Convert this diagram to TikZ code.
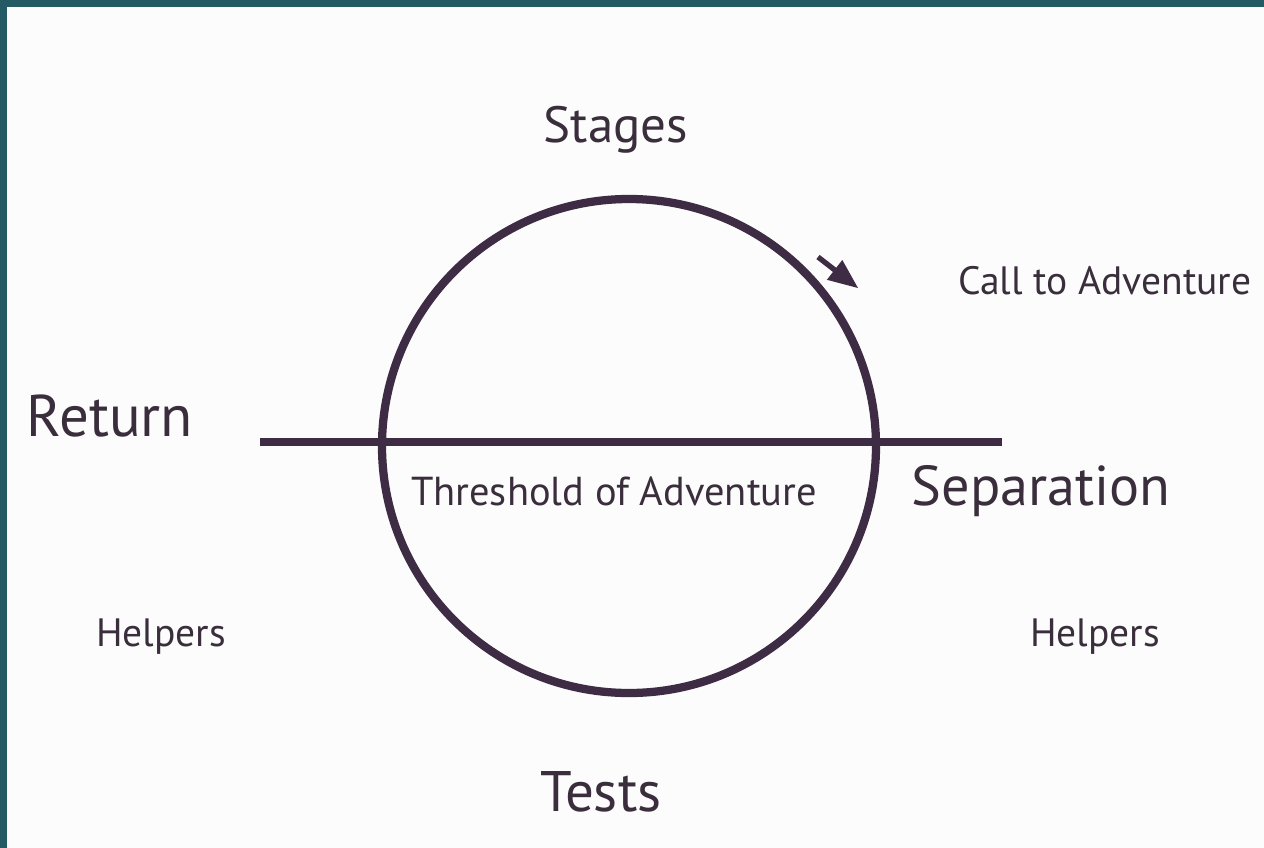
\documentclass[tikz,border=0pt]{standalone}
\usepackage{fontspec}
\setmainfont{PT Sans}
\usetikzlibrary{arrows}
\definecolor{ink}{HTML}{3E2C45}
\definecolor{txt}{HTML}{3A2E3C}
\definecolor{frame}{HTML}{245A63}
\newcommand{\fsz}[1]{\fontsize{#1}{#1}\selectfont}

\begin{document}
\begin{tikzpicture}[x=0.2mm,y=-0.2mm,
   lbl/.style={anchor=base,inner sep=0pt,text=txt},
   ring/.style={ink,line width=4.7pt}]
   \useasboundingbox (0,0) rectangle (1264,848);
   \fill[white!98!gray] (0,0) rectangle (1264,848);
   \fill[frame] (0,0) rectangle (1264,7);
   \fill[frame] (0,0) rectangle (7,848);
 %
   \node[circle,minimum size=494*0.2mm,inner sep=0pt,ring,draw] (c) at (629,446) {};
   \coordinate (lft) at (260,442);
   \coordinate (rgt) at (1002,442);
   \draw[ring,line width=4pt] (lft) -- (rgt);
   \coordinate (tail) at (818,257);
   \coordinate (tip)  at (858,288);
   \draw[ink,line width=3pt,-triangle 45] (tail) -- (tip);
 %
   \node[lbl] (stages) at (616,142) {\fsz{29pt}Stages};
   \node[lbl,anchor=base west] (call) at (958,294) {\fsz{22.5pt}Call to Adventure};
   \node[lbl] (ret) at (110,436) {\fsz{33.5pt}Return};
   \node[lbl] (thr) at (614,505) {\fsz{23pt}Threshold of Adventure};
   \node[lbl] (sep) at (1041,505) {\fsz{32pt}Separation};
   \node[lbl] (helpl) at (161,646) {\fsz{22.5pt}Helpers};
   \node[lbl] (helpr) at (1095,646) {\fsz{22.5pt}Helpers};
   \node[lbl] (tests) at (601,811) {\fsz{32.5pt}Tests};
\end{tikzpicture}
\end{document}
